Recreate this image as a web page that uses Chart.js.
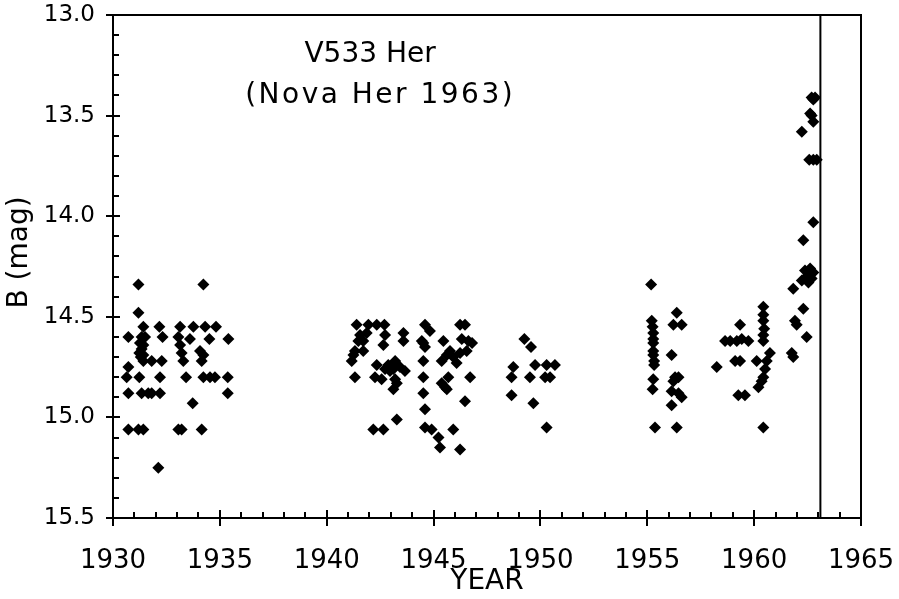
<!DOCTYPE html>
<html>
<head>
<meta charset="utf-8">
<script src="https://cdn.jsdelivr.net/npm/chart.js@4.4.1/dist/chart.umd.min.js"></script>
<style>
  body { margin: 0; background: #fff; }
  #wrap { width: 899px; height: 599px; }
</style>
</head>
<body>
<div id="wrap"><canvas id="lc"></canvas></div>
<script>
// ---- data ----
const obsYear = [
  // 1930-1936
  1931.19, 1934.23, 1931.19, 1931.42, 1932.17, 1933.14, 1933.76, 1934.31, 1934.82,
  1930.72, 1931.34, 1931.50, 1932.32, 1933.06, 1933.60, 1934.51, 1935.40,
  1931.26, 1931.42, 1931.34, 1931.23, 1931.42, 1931.30, 1933.14, 1933.21, 1934.07, 1934.23,
  1931.42, 1931.81, 1932.28, 1933.29, 1934.15, 1930.72,
  1930.64, 1931.23, 1932.20, 1933.42, 1934.23, 1934.54, 1934.77, 1935.37,
  1930.72, 1931.34, 1931.65, 1931.81, 1932.20, 1935.37, 1933.73,
  1930.72, 1931.19, 1931.42, 1933.06, 1933.21, 1934.15, 1932.12,
  // 1941-1947
  1941.40, 1941.95, 1942.34, 1942.70, 1944.60, 1946.24, 1946.47, 1944.83, 1943.59,
  1941.56, 1941.87, 1942.73, 1941.48, 1941.71, 1943.59, 1944.45, 1944.52, 1945.46,
  1946.32, 1946.63, 1946.80, 1942.65, 1941.32, 1941.71, 1941.25, 1941.17, 1944.60,
  1945.77, 1946.55, 1946.24, 1944.52, 1945.62, 1945.38, 1945.92, 1946.08,
  1942.34, 1942.88, 1943.20, 1943.12, 1943.43, 1943.66, 1942.73, 1942.96,
  1941.32, 1942.26, 1942.57, 1943.20, 1943.28, 1943.12, 1944.52, 1946.71, 1945.69,
  1945.38, 1945.54, 1945.62, 1944.52, 1946.47, 1944.60, 1943.28,
  1942.18, 1942.65, 1944.60, 1944.91, 1945.92, 1945.23, 1945.30, 1946.24,
  // 1948-1951
  1949.25, 1949.56, 1948.73, 1949.75, 1950.29, 1950.68, 1948.65, 1949.51, 1950.22,
  1950.45, 1948.65, 1949.67, 1950.29,
  // 1955-1957
  1955.18, 1955.21, 1955.25, 1955.28, 1955.28, 1955.28, 1955.28, 1955.28, 1955.32,
  1955.32, 1955.28, 1955.25, 1955.36,
  1956.38, 1956.22, 1956.61, 1956.14, 1956.30, 1956.46, 1956.22, 1956.14, 1956.46,
  1956.61, 1956.14, 1956.38,
  // 1958-1961
  1958.25, 1959.34, 1958.64, 1958.88, 1959.19, 1959.42, 1959.73, 1959.11, 1959.34,
  1959.26, 1959.57, 1960.43, 1960.43, 1960.43, 1960.47, 1960.43, 1960.43, 1960.74,
  1960.12, 1960.59, 1960.51, 1960.43, 1960.35, 1960.20, 1960.43,
  // 1961.7-1963
  1962.69, 1962.77, 1962.85, 1962.62, 1962.69, 1962.77, 1962.23, 1962.58, 1962.77,
  1962.93, 1962.77, 1962.30, 1962.38, 1962.62, 1962.77, 1962.46, 1962.69, 1962.23,
  1962.54, 1961.83, 1962.30, 1961.91, 1961.99, 1962.46, 1961.76, 1961.83
];
const obsMag = [
  14.34, 14.34, 14.48, 14.55, 14.55, 14.55, 14.55, 14.55, 14.55,
  14.60, 14.60, 14.60, 14.60, 14.60, 14.61, 14.61, 14.61,
  14.63, 14.64, 14.66, 14.68, 14.69, 14.70, 14.64, 14.68, 14.67, 14.69,
  14.72, 14.72, 14.72, 14.72, 14.72, 14.75,
  14.80, 14.80, 14.80, 14.80, 14.80, 14.80, 14.80, 14.80,
  14.88, 14.88, 14.88, 14.88, 14.88, 14.88, 14.93,
  15.06, 15.06, 15.06, 15.06, 15.06, 15.06, 15.25,

  14.54, 14.54, 14.54, 14.54, 14.54, 14.54, 14.54, 14.57, 14.58,
  14.59, 14.58, 14.59, 14.62, 14.62, 14.62, 14.62, 14.63, 14.62,
  14.61, 14.62, 14.63, 14.64, 14.67, 14.67, 14.69, 14.72, 14.65,
  14.67, 14.67, 14.68, 14.72, 14.69, 14.72, 14.70, 14.73,
  14.74, 14.74, 14.72, 14.76, 14.75, 14.77, 14.76, 14.77,
  14.80, 14.80, 14.81, 14.81, 14.83, 14.86, 14.80, 14.80, 14.80,
  14.83, 14.85, 14.86, 14.88, 14.92, 14.96, 15.01,
  15.06, 15.06, 15.05, 15.06, 15.06, 15.10, 15.15, 15.16,

  14.61, 14.65, 14.75, 14.74, 14.74, 14.74, 14.80, 14.80, 14.80,
  14.80, 14.89, 14.93, 15.05,

  14.34, 14.52, 14.55, 14.58, 14.61, 14.63, 14.67, 14.69, 14.72,
  14.74, 14.81, 14.86, 15.05,
  14.48, 14.54, 14.54, 14.69, 14.80, 14.80, 14.82, 14.87, 14.88,
  14.90, 14.94, 15.05,

  14.75, 14.54, 14.62, 14.62, 14.62, 14.61, 14.62, 14.72, 14.72,
  14.89, 14.89, 14.45, 14.49, 14.52, 14.56, 14.59, 14.62, 14.68,
  14.72, 14.72, 14.76, 14.80, 14.82, 14.85, 15.05,

  13.41, 13.42, 13.41, 13.49, 13.50, 13.53, 13.58, 13.72, 13.72,
  13.72, 14.03, 14.12, 14.27, 14.26, 14.28, 14.30, 14.31, 14.32,
  14.33, 14.36, 14.46, 14.52, 14.54, 14.60, 14.68, 14.70
];
const eruptionYear = [1963.1];
const yearRange = [1930, 1965];
const magRange = [13.0, 15.5];
const titleLines = ['V533 Her', '(Nova Her 1963)'];
const yTitle = 'B (mag)';

const points = obsYear.map((yr, i) => ({ x: yr, y: obsMag[i] }));
const eruptionLine = [
  { x: eruptionYear[0], y: magRange[0] },
  { x: eruptionYear[0], y: magRange[1] }
];

Chart.defaults.color = '#000';
Chart.defaults.font.family = '"DejaVu Sans", Verdana, sans-serif';

// frame + inward minor ticks, crossing major ticks, text labels
const frameTicks = {
  id: 'frameTicks',
  afterDraw(chart) {
    const { ctx, chartArea: a, scales: { x, y } } = chart;
    ctx.save();
    ctx.strokeStyle = '#000';
    ctx.lineWidth = 2;
    ctx.strokeRect(a.left, a.top, a.right - a.left, a.bottom - a.top);
    ctx.beginPath();
    for (let yr = yearRange[0]; yr <= yearRange[1]; yr++) {
      const px = Math.round(x.getPixelForValue(yr));
      if (yr % 5 === 0) { ctx.moveTo(px, a.bottom - 8); ctx.lineTo(px, a.bottom + 8); }
      else { ctx.moveTo(px, a.bottom - 6); ctx.lineTo(px, a.bottom); }
    }
    for (let k = 0; k <= 25; k++) {
      const m = magRange[0] + k * 0.1;
      const py = Math.round(y.getPixelForValue(m));
      if (k % 5 === 0) { ctx.moveTo(a.left - 7, py); ctx.lineTo(a.left + 7, py); }
      else { ctx.moveTo(a.left, py); ctx.lineTo(a.left + 6, py); }
    }
    ctx.stroke();

    ctx.fillStyle = '#000';
    ctx.font = '28px "DejaVu Sans", Verdana, sans-serif';
    ctx.textAlign = 'center';
    ctx.textBaseline = 'middle';
    // y axis title
    ctx.save();
    ctx.translate(20, y.getPixelForValue(14.18));
    ctx.rotate(-Math.PI / 2);
    ctx.fillText(yTitle, 0, 0);
    ctx.restore();
    // star name inside the plot
    ctx.fillText(titleLines[0], x.getPixelForValue(1942.03), y.getPixelForValue(13.195));
    ctx.letterSpacing = '2.5px';
    ctx.fillText(titleLines[1], x.getPixelForValue(1942.5), y.getPixelForValue(13.40));
    ctx.restore();
  }
};

new Chart(document.getElementById('lc'), {
  type: 'scatter',
  data: {
    datasets: [
      {
        data: points,
        pointStyle: 'rectRot',
        pointRadius: 6,
        pointBorderWidth: 0,
        backgroundColor: '#000',
        borderColor: '#000'
      },
      {
        type: 'line',
        data: eruptionLine,
        borderColor: '#000',
        borderWidth: 2,
        pointRadius: 0,
        fill: false
      }
    ]
  },
  options: {
    responsive: true,
    maintainAspectRatio: false,
    animation: false,
    events: [],
    layout: { padding: { left: 4, right: 38, top: 15, bottom: 0 } },
    plugins: {
      legend: { display: false },
      tooltip: { enabled: false }
    },
    scales: {
      x: {
        type: 'linear',
        min: yearRange[0],
        max: yearRange[1],
        grid: { display: false, drawTicks: false },
        border: { display: false },
        ticks: { stepSize: 5, padding: 28, font: { size: 26 }, maxRotation: 0, callback: v => String(v) },
        title: { display: true, text: 'YEAR', font: { size: 28 }, padding: 0 },
        afterFit(s) { s.height = 81; s.paddingLeft = 0; s.paddingRight = 0; }
      },
      y: {
        type: 'linear',
        reverse: true,
        min: magRange[0],
        max: magRange[1],
        grid: { display: false, drawTicks: false },
        border: { display: false },
        ticks: {
          stepSize: 0.5,
          padding: 18,
          font: { size: 23 },
          callback: v => v.toFixed(1)
        },
        title: { display: false },
        afterFit(s) { s.width = 109; s.paddingTop = 0; s.paddingBottom = 0; }
      }
    }
  },
  plugins: [frameTicks]
});
</script>
</body>
</html>
